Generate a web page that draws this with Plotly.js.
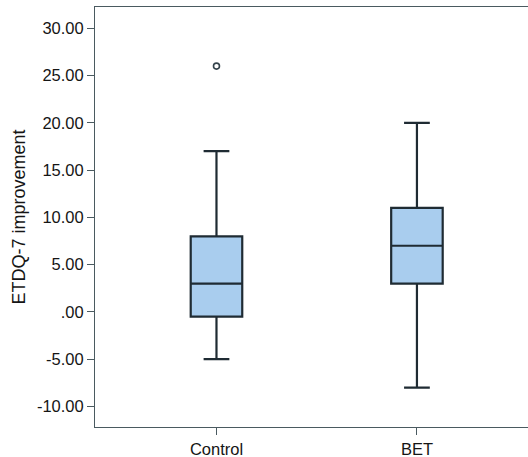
<!DOCTYPE html>
<html>
<head>
<meta charset="utf-8">
<script src="https://cdn.plot.ly/plotly-3.0.1.min.js"></script>
<style>html,body{margin:0;padding:0;background:#fff;}#chart{width:528px;height:457px;}</style>
</head>
<body>
<div id="chart"></div>
<script>
const categories = ["Control", "BET"];
const lowerWhisker = [-5, -8];
const q1Values = [-0.5, 3];
const medianValues = [3, 7];
const q3Values = [8, 11];
const upperWhisker = [17, 20];
const outlierCategory = ["Control"];
const outlierValues = [26];
const yTickVals = [-10, -5, 0, 5, 10, 15, 20, 25, 30];
const yTickText = ["-10.00", "-5.00", ".00", "5.00", "10.00", "15.00", "20.00", "25.00", "30.00"];

const boxTrace = {
  type: "box",
  x: categories,
  q1: q1Values,
  median: medianValues,
  q3: q3Values,
  lowerfence: lowerWhisker,
  upperfence: upperWhisker,
  fillcolor: "#a9cdee",
  line: {color: "#1f2b33", width: 2.2},
  width: 0.257,
  whiskerwidth: 0.5,
  boxpoints: false,
  hoverinfo: "none",
  showlegend: false
};

const outlierTrace = {
  type: "scatter",
  mode: "markers",
  x: outlierCategory,
  y: outlierValues,
  marker: {symbol: "circle-open", size: 6, color: "#34434b", line: {width: 1.6, color: "#34434b"}},
  hoverinfo: "none",
  showlegend: false
};

const layout = {
  width: 528,
  height: 457,
  margin: {l: 95, r: 0, t: 7, b: 30},
  paper_bgcolor: "#ffffff",
  plot_bgcolor: "#ffffff",
  font: {family: "Liberation Sans, Arial, sans-serif", color: "#151515", size: 16},
  xaxis: {
    type: "category",
    range: [-0.606, 1.554],
    showline: true,
    linecolor: "#4a5a60",
    linewidth: 1,
    mirror: true,
    ticks: "outside",
    ticklen: 7,
    tickcolor: "#4a5a60",
    showgrid: false,
    zeroline: false,
    tickfont: {size: 16.5}
  },
  yaxis: {
    range: [-12.17, 32.25],
    tickvals: yTickVals,
    ticktext: yTickText,
    showline: true,
    linecolor: "#4a5a60",
    linewidth: 1,
    ticks: "outside",
    ticklen: 7,
    tickcolor: "#4a5a60",
    showgrid: false,
    zeroline: false,
    tickfont: {size: 16.5},
    title: {text: "ETDQ-7 improvement", font: {size: 18}, standoff: 6}
  }
};

Plotly.newPlot("chart", [boxTrace, outlierTrace], layout, {staticPlot: true, displayModeBar: false});
</script>
</body>
</html>
